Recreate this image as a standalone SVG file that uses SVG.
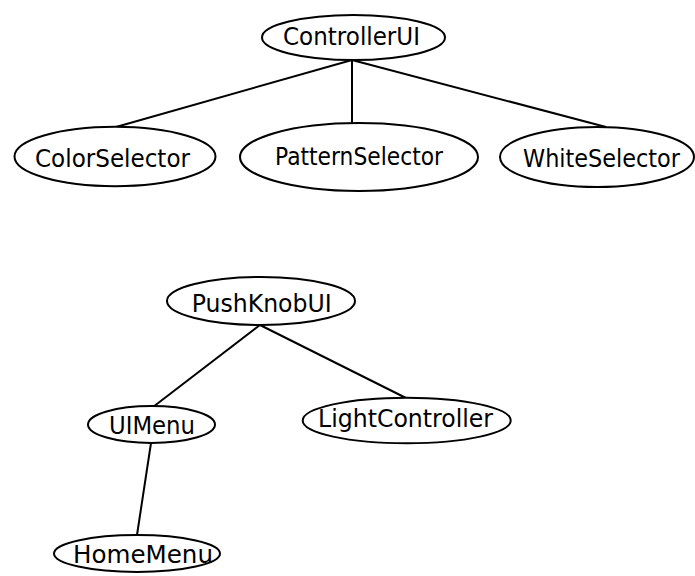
<svg xmlns="http://www.w3.org/2000/svg" width="695" height="576" viewBox="0 0 695 576">
<style>
.n ellipse{fill:#fff;stroke:#000;stroke-width:2}
.n text{font-family:"DejaVu Sans",Verdana,sans-serif;font-size:24px;fill:#000;text-anchor:middle}
#edges line{stroke:#000;stroke-width:2}
</style>
<rect width="695" height="576" fill="#fff"/>
<g id="edges">
<line x1="352" y1="60" x2="116" y2="127"/>
<line x1="352" y1="60" x2="352" y2="123"/>
<line x1="352" y1="60" x2="606" y2="127"/>
<line x1="260" y1="325" x2="153" y2="407"/>
<line x1="260" y1="325" x2="406" y2="398"/>
<line x1="151" y1="443" x2="137" y2="535"/>
</g>
<g id="ControllerUI" class="n"><ellipse cx="353.5" cy="37.5" rx="91.5" ry="22.5"/><text x="351.5" y="44.5" textLength="137" lengthAdjust="spacingAndGlyphs">ControllerUI</text></g>
<g id="ColorSelector" class="n"><ellipse cx="115" cy="156.5" rx="100.5" ry="29.7"/><text x="112.5" y="166.5" textLength="155" lengthAdjust="spacingAndGlyphs">ColorSelector</text></g>
<g id="PatternSelector" class="n"><ellipse cx="359" cy="157" rx="119" ry="34"/><text x="359" y="164.5" textLength="168" lengthAdjust="spacingAndGlyphs">PatternSelector</text></g>
<g id="WhiteSelector" class="n"><ellipse cx="597" cy="157" rx="97" ry="30"/><text x="601.5" y="166.5" textLength="157" lengthAdjust="spacingAndGlyphs">WhiteSelector</text></g>
<g id="PushKnobUI" class="n"><ellipse cx="261" cy="301" rx="94" ry="24"/><text x="261.7" y="312" textLength="140" lengthAdjust="spacingAndGlyphs">PushKnobUI</text></g>
<g id="UIMenu" class="n"><ellipse cx="151.5" cy="424.5" rx="63.5" ry="18.5"/><text x="152" y="434" textLength="86" lengthAdjust="spacingAndGlyphs">UIMenu</text></g>
<g id="LightController" class="n"><ellipse cx="406.7" cy="420.5" rx="104" ry="22.8"/><text x="405.5" y="427" textLength="175" lengthAdjust="spacingAndGlyphs">LightController</text></g>
<g id="HomeMenu" class="n"><ellipse cx="137" cy="553.5" rx="83" ry="18.5"/><text x="143" y="563" textLength="140" lengthAdjust="spacingAndGlyphs">HomeMenu</text></g>
</svg>
